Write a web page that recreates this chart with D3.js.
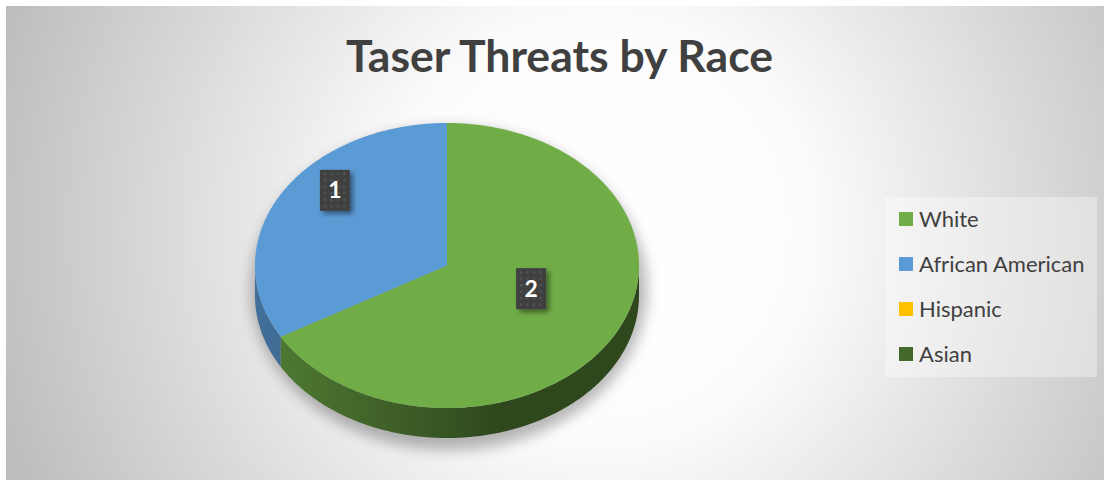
<!DOCTYPE html>
<html lang="en">
<head>
<meta charset="UTF-8">
<title>Taser Threats by Race</title>
<style>
  body { margin: 0; background: #fff; }
  svg { display: block; font-family: Lato, "Open Sans", sans-serif; }
  .legend-label { fill: #404040; font-size: 22px; }
  .title { fill: #404040; font-weight: bold; }
  .data-label { fill: #fff; font-weight: bold; font-size: 23px; text-anchor: middle; }
</style>
</head>
<body>
<script src="https://cdn.jsdelivr.net/npm/d3@7"></script>
<script>
const categories = ["White", "African American", "Hispanic", "Asian"];
const values = [2, 1, 0, 0];
const colors = ["#70AD47", "#5B9BD5", "#FFC000", "#43682B"];
const title = "Taser Threats by Race";

const width = 1104, height = 480;
const cx = 447, cy = 265.5, rx = 192, ry = 142.5, depth = 30;

const svg = d3.select("body").append("svg")
  .attr("width", width)
  .attr("height", height);

const defs = svg.append("defs");

// chart background
const bg = defs.append("radialGradient")
  .attr("id", "bg")
  .attr("gradientUnits", "userSpaceOnUse")
  .attr("cx", 600).attr("cy", 230).attr("r", 630);
bg.append("stop").attr("offset", 0).attr("stop-color", "#ffffff");
bg.append("stop").attr("offset", 0.33).attr("stop-color", "#fcfcfc");
bg.append("stop").attr("offset", 1).attr("stop-color", "#bdbdbd");

svg.append("rect")
  .attr("x", 6).attr("y", 6)
  .attr("width", width - 6).attr("height", height - 6)
  .attr("fill", "url(#bg)");

// filters
const blur = defs.append("filter").attr("id", "pieShadow")
  .attr("x", "-20%").attr("y", "-20%").attr("width", "140%").attr("height", "140%");
blur.append("feGaussianBlur").attr("stdDeviation", 7);

const boxShadow = defs.append("filter").attr("id", "boxShadow")
  .attr("x", "-50%").attr("y", "-50%").attr("width", "200%").attr("height", "200%");
boxShadow.append("feDropShadow")
  .attr("dx", 3).attr("dy", 3).attr("stdDeviation", 2.5)
  .attr("flood-color", "#000").attr("flood-opacity", 0.45);

// dotted fill for data labels
const dots = defs.append("pattern")
  .attr("id", "dots")
  .attr("patternUnits", "userSpaceOnUse")
  .attr("width", 6.5).attr("height", 6.5);
dots.append("rect").attr("width", 6.5).attr("height", 6.5).attr("fill", "#404040");
dots.append("rect").attr("x", 2).attr("y", 2).attr("width", 2).attr("height", 2).attr("fill", "#585858");

const color = d3.scaleOrdinal().domain(categories).range(colors);

// side gradients, one per slice
categories.forEach((c, i) => {
  const g = defs.append("linearGradient")
    .attr("id", "side" + i)
    .attr("gradientUnits", "userSpaceOnUse")
    .attr("x1", cx - rx).attr("y1", 0)
    .attr("x2", cx + rx * 0.3).attr("y2", 0);
  g.append("stop").attr("offset", 0).attr("stop-color", d3.color(colors[i]).darker(0.9));
  g.append("stop").attr("offset", 0.45).attr("stop-color", d3.color(colors[i]).darker(1.5));
  g.append("stop").attr("offset", 1).attr("stop-color", d3.color(colors[i]).darker(2.5));
});

const pie = d3.pie().sort(null).value(d => d.value);
const slices = pie(categories.map((c, i) => ({ name: c, value: values[i] })));

const px = (a, dy = 0) => [cx + rx * Math.sin(a), cy - ry * Math.cos(a) + dy];
const arcPts = (a0, a1, dy = 0) => {
  const n = Math.max(2, Math.ceil((a1 - a0) / 0.01));
  return d3.range(n + 1).map(k => px(a0 + (a1 - a0) * k / n, dy));
};
const line = d3.line().curve(d3.curveLinearClosed);

// shadow under the pie
svg.append("ellipse")
  .attr("cx", cx + 2).attr("cy", cy + depth / 2 + 8)
  .attr("rx", rx + 6).attr("ry", ry + depth / 2 + 4)
  .attr("fill", "#000").attr("opacity", 0.28)
  .attr("filter", "url(#pieShadow)");

// sides (front half only)
svg.append("g").selectAll("path")
  .data(slices.filter(d => d.value > 0))
  .join("path")
  .attr("d", d => {
    const s = Math.max(d.startAngle, Math.PI / 2);
    const e = Math.min(d.endAngle, Math.PI * 1.5);
    if (e <= s) return null;
    const top = arcPts(s, e);
    const bottom = arcPts(s, e, depth).reverse();
    return line(top.concat(bottom));
  })
  .attr("fill", d => "url(#side" + d.index + ")");

// tops
svg.append("g").selectAll("path")
  .data(slices.filter(d => d.value > 0))
  .join("path")
  .attr("d", d => line([[cx, cy]].concat(arcPts(d.startAngle, d.endAngle))))
  .attr("fill", d => color(d.data.name));

// data labels
const lab = svg.append("g").selectAll("g")
  .data(slices.filter(d => d.value > 0))
  .join("g")
  .attr("transform", d => {
    const a = (d.startAngle + d.endAngle) / 2;
    const x = cx - 14 + 0.59 * rx * Math.sin(a);
    const y = cy - 26 - 0.69 * ry * Math.cos(a);
    return `translate(${x},${y})`;
  });
lab.append("rect")
  .attr("x", -15).attr("y", -20.5)
  .attr("width", 30).attr("height", 41)
  .attr("fill", "url(#dots)")
  .attr("filter", "url(#boxShadow)");
lab.append("text")
  .attr("class", "data-label")
  .attr("y", 8)
  .text(d => d.value);

// title
svg.append("text")
  .attr("class", "title")
  .attr("x", 559.5).attr("y", 72)
  .attr("text-anchor", "middle")
  .attr("font-size", 44)
  .attr("textLength", 427)
  .attr("lengthAdjust", "spacingAndGlyphs")
  .text(title);

// legend
const legend = svg.append("g");
legend.append("rect")
  .attr("x", 885).attr("y", 197)
  .attr("width", 212).attr("height", 180)
  .attr("fill", "#fff").attr("opacity", 0.35);

const ly = d3.scalePoint().domain(categories).range([219, 354]);
const item = legend.selectAll("g.item")
  .data(categories)
  .join("g")
  .attr("class", "item")
  .attr("transform", d => `translate(899,${ly(d)})`);
item.append("rect")
  .attr("x", 0).attr("y", -7)
  .attr("width", 14).attr("height", 14)
  .attr("fill", d => color(d));
item.append("text")
  .attr("class", "legend-label")
  .attr("x", 20).attr("y", 8)
  .text(d => d);
</script>
</body>
</html>
